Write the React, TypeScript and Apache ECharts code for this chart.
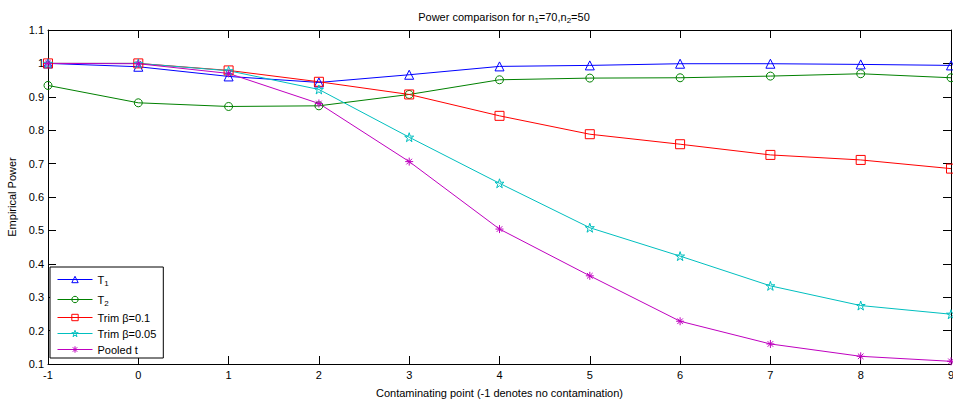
import React, { useEffect, useRef } from "react";
import * as echarts from "echarts";

const xs = [-1, 0, 1, 2, 3, 4, 5, 6, 7, 8, 9];
const t1 = [1.0, 0.99, 0.961, 0.943, 0.966, 0.991, 0.994, 0.999, 0.999, 0.997, 0.994];
const t2 = [0.934, 0.882, 0.871, 0.873, 0.907, 0.951, 0.956, 0.957, 0.962, 0.969, 0.957];
const trim10 = [1.0, 1.0, 0.979, 0.945, 0.907, 0.843, 0.788, 0.758, 0.726, 0.711, 0.685];
const trim05 = [1.0, 1.0, 0.978, 0.922, 0.779, 0.641, 0.508, 0.423, 0.334, 0.275, 0.249];
const pooled = [1.0, 0.999, 0.97, 0.88, 0.706, 0.504, 0.364, 0.228, 0.16, 0.123, 0.108];

const seriesNames = ["T1", "T2", "Trim β=0.1", "Trim β=0.05", "Pooled t"];
const seriesColors = ["#0000ff", "#008000", "#ff0000", "#00bfbf", "#bf00bf"];

const FONT = "Liberation Sans, Arial, sans-serif";

function starPath(): string {
  const pts: string[] = [];
  for (let i = 0; i < 10; i++) {
    const a = ((-90 + i * 36) * Math.PI) / 180;
    const r = i % 2 === 0 ? 10 : 3.82;
    pts.push(`${(r * Math.cos(a)).toFixed(2)},${(r * Math.sin(a)).toFixed(2)}`);
  }
  return "path://M" + pts.join("L") + "Z";
}

const symbols = [
  "path://M0,-10L10,8L-10,8Z",
  "circle",
  "rect",
  starPath(),
  "path://M0,-10L0,10M-10,0L10,0M-7,-7L7,7M-7,7L7,-7",
];
const symbolSizes = [9, 8, 9, 9, 8];

export default function App() {
  const ref = useRef<HTMLDivElement>(null);
  useEffect(() => {
    if (!ref.current) return;
    const chart = echarts.init(ref.current, undefined, { renderer: "svg" });
    const dataSets = [t1, t2, trim10, trim05, pooled];
    const series = dataSets.map((d, i) => ({
      name: seriesNames[i],
      type: "line",
      data: xs.map((x, j) => [x, d[j]]),
      symbol: symbols[i],
      symbolSize: symbolSizes[i],
      showAllSymbol: true,
      lineStyle: { color: seriesColors[i], width: 1 },
      itemStyle: { color: "rgba(0,0,0,0)", borderColor: seriesColors[i], borderWidth: 1 },
      emphasis: { disabled: true },
    }));
    const axisCommon = {
      axisLine: { show: true, onZero: false, lineStyle: { color: "#000", width: 1 } },
      axisTick: { show: true, inside: true, length: 8, lineStyle: { color: "#000" } },
      splitLine: { show: false },
    };
    chart.setOption({
      animation: false,
      backgroundColor: "#fff",
      title: {
        text: "{m|Power comparison for n}{s|1}{m|=70,n}{s|2}{m|=50}",
        left: 499,
        top: 5,
        textAlign: "center",
        textStyle: {
          fontFamily: FONT,
          fontSize: 11,
          fontWeight: "normal",
          color: "#000",
          rich: {
            m: { fontFamily: FONT, fontSize: 11, color: "#000", lineHeight: 14 },
            s: { fontFamily: FONT, fontSize: 8, color: "#000", lineHeight: 14, padding: [6, 0, 0, 0] },
          },
        },
      },
      grid: { left: 48, right: 2, top: 30, bottom: 37, containLabel: false, outerBoundsMode: "none" },
      legend: {
        orient: "vertical",
        left: 50,
        top: 267,
        padding: [5, 7, 3, 7],
        itemGap: 5,
        itemWidth: 35,
        itemHeight: 8,
        backgroundColor: "#fff",
        borderColor: "#000",
        borderWidth: 1,
        borderRadius: 0,
        data: seriesNames,
        itemStyle: { borderWidth: 1 },
        lineStyle: { width: 1 },
        formatter: (name: string) => {
          if (name === "T1") return "{m|T}{s|1}";
          if (name === "T2") return "{m|T}{s|2}";
          return "{m|" + name + "}";
        },
        textStyle: {
          fontFamily: FONT,
          fontSize: 11,
          color: "#000",
          rich: {
            m: { fontFamily: FONT, fontSize: 11, color: "#000", lineHeight: 14 },
            s: { fontFamily: FONT, fontSize: 8, color: "#000", lineHeight: 14, padding: [7, 0, 0, 0] },
          },
        },
      },
      xAxis: [
        {
          type: "value",
          min: -1,
          max: 9,
          interval: 1,
          position: "bottom",
          name: "Contaminating point (-1 denotes no contamination)",
          nameLocation: "middle",
          nameGap: 23,
          nameTextStyle: { fontFamily: FONT, fontSize: 11, color: "#000" },
          axisLabel: { fontFamily: FONT, fontSize: 11, color: "#000", margin: 5 },
          ...axisCommon,
        },
        {
          type: "value",
          min: -1,
          max: 9,
          interval: 1,
          position: "top",
          axisLabel: { show: false },
          ...axisCommon,
        },
      ],
      yAxis: [
        {
          type: "value",
          min: 0.1,
          max: 1.1,
          interval: 0.1,
          position: "left",
          name: "Empirical Power",
          nameLocation: "middle",
          nameGap: 22,
          nameTextStyle: { fontFamily: FONT, fontSize: 11, color: "#000" },
          axisLabel: {
            fontFamily: FONT,
            fontSize: 11,
            color: "#000",
            margin: 4,
            formatter: (v: number) => String(Number(v.toFixed(1))),
          },
          ...axisCommon,
        },
        {
          type: "value",
          min: 0.1,
          max: 1.1,
          interval: 0.1,
          position: "right",
          axisLabel: { show: false },
          ...axisCommon,
        },
      ],
      series,
    });
    return () => chart.dispose();
  }, []);
  return (
    <div
      ref={ref}
      style={{ position: "fixed", left: 0, top: 0, width: 953, height: 401 }}
    />
  );
}
